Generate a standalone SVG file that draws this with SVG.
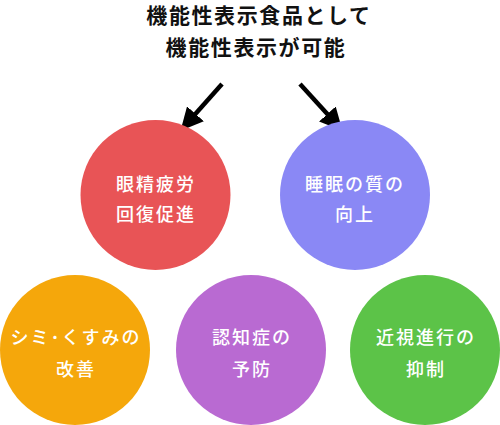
<svg xmlns="http://www.w3.org/2000/svg" width="500" height="425" viewBox="0 0 500 425">
<style>
.t{font-family:"Noto Sans CJK JP","Noto Sans",sans-serif;font-weight:bold;font-size:21px;fill:#111;text-anchor:middle;letter-spacing:1.6px}
.l{font-family:"Noto Sans CJK JP","Noto Sans",sans-serif;font-weight:500;font-size:18px;fill:#fff;text-anchor:middle;letter-spacing:2px}
.a{stroke:#000;stroke-width:4.5;fill:none}
</style>
<defs>
<marker id="ah" viewBox="0 0 10 10" refX="9" refY="5" markerWidth="5" markerHeight="5" orient="auto" markerUnits="strokeWidth">
<path d="M0,0 L10,5 L0,10 z" fill="#000"/>
</marker>
</defs>
<g id="title">
<text class="t" x="259" y="23">機能性表示食品として</text>
<text class="t" x="256" y="55">機能性表示が可能</text>
</g>
<g id="connectors">
<line class="a" x1="222" y1="84" x2="182" y2="129" marker-end="url(#ah)"/>
<line class="a" x1="300" y1="84" x2="341" y2="129" marker-end="url(#ah)"/>
</g>
<g id="n1">
<circle cx="155.5" cy="195" r="75" fill="#e85456"/>
<text class="l" x="156" y="191">眼精疲労</text>
<text class="l" x="156" y="221">回復促進</text>
</g>
<g id="n2">
<circle cx="355" cy="195" r="75" fill="#8a88f5"/>
<text class="l" x="355" y="191">睡眠の質の</text>
<text class="l" x="355" y="221">向上</text>
</g>
<g id="n3">
<circle cx="75" cy="350" r="75" fill="#f5a70b"/>
<text class="l" x="76" y="344">シミ･くすみの</text>
<text class="l" x="76" y="376">改善</text>
</g>
<g id="n4">
<circle cx="251" cy="350" r="75" fill="#b96ad2"/>
<text class="l" x="252" y="344">認知症の</text>
<text class="l" x="252" y="376">予防</text>
</g>
<g id="n5">
<circle cx="425" cy="350" r="75" fill="#5cc348"/>
<text class="l" x="426" y="344">近視進行の</text>
<text class="l" x="426" y="376">抑制</text>
</g>
</svg>
